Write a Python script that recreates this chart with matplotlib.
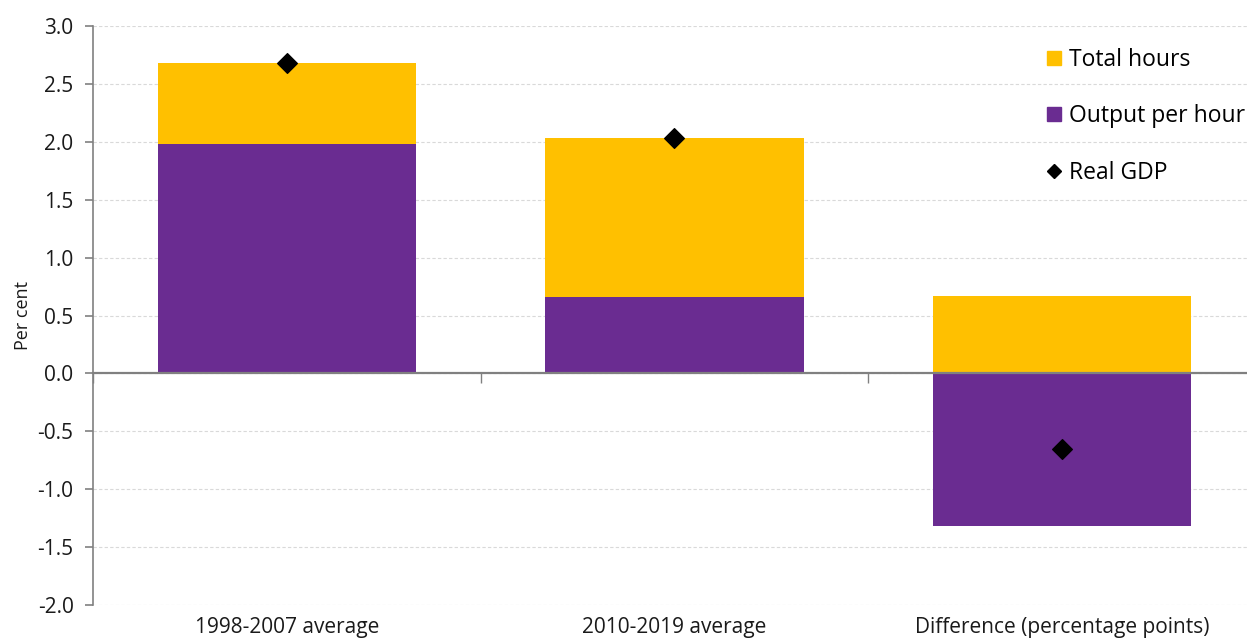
import matplotlib
matplotlib.use("Agg")
import matplotlib.pyplot as plt
import matplotlib.transforms as mtransforms
from matplotlib.lines import Line2D
import numpy as np

categories = ["1998-2007 average", "2010-2019 average", "Difference (percentage points)"]
output_per_hour = [1.98, 0.66, -1.32]
total_hours = [0.70, 1.37, 0.67]
real_gdp = [2.68, 2.03, -0.65]
y_ticks = [-2.0, -1.5, -1.0, -0.5, 0.0, 0.5, 1.0, 1.5, 2.0, 2.5, 3.0]

YELLOW = "#FFC000"
PURPLE = "#6A2C91"
GREY = "#808080"

plt.rcParams["font.family"] = ["Open Sans", "DejaVu Sans"]

fig = plt.figure(figsize=(12.47, 6.44), dpi=100)
W, H = 1247, 644
ax = fig.add_axes([93 / W, (644 - 605) / H, (1256 - 93) / W, (605 - 26) / H])

x = np.arange(len(categories))
width = 0.667
oph = np.array(output_per_hour)
th = np.array(total_hours)
bottom_hours = np.where(oph > 0, oph, 0)
ax.bar(x, oph, width, color=PURPLE, zorder=2)
ax.bar(x, th, width, bottom=bottom_hours, color=YELLOW, zorder=2)
ax.scatter(x, real_gdp, marker="D", s=100, color="black", zorder=3)

ax.set_xlim(-0.5, 2.5)
ax.set_ylim(-2.0, 3.0)
ax.set_yticks(y_ticks)
ax.set_yticklabels([f"{v:.1f}" for v in y_ticks], fontsize=15, color="#1a1a1a")
ax.grid(axis="y", linestyle=(0, (3, 2)), color="#d9d9d9", linewidth=0.8, zorder=0)
ax.set_axisbelow(True)

for s in ["top", "right"]:
    ax.spines[s].set_visible(False)
ax.spines["left"].set_color(GREY)
ax.spines["left"].set_linewidth(1.2)
ax.spines["bottom"].set_position(("data", 0))
ax.spines["bottom"].set_color(GREY)
ax.spines["bottom"].set_linewidth(1.6)
ax.spines["bottom"].set_zorder(4)

ax.tick_params(axis="y", direction="out", length=6, color=GREY, width=1.2, pad=8)
ax.set_xticks([])
ax.set_xticks([-0.5, 0.5, 1.5, 2.5], minor=True)
ax.tick_params(axis="x", which="minor", direction="out", length=7, color=GREY, width=1)

trans = mtransforms.blended_transform_factory(ax.transData, ax.transAxes)
for i, c in enumerate(categories):
    ax.text(i, -0.02, c, transform=trans, ha="center", va="top", fontsize=15, color="#1a1a1a")

ax.set_ylabel("Per cent", fontsize=13, color="#1a1a1a", labelpad=4)

handles = [
    Line2D([], [], marker="s", linestyle="none", color=YELLOW, markersize=10.5),
    Line2D([], [], marker="s", linestyle="none", color=PURPLE, markersize=10.5),
    Line2D([], [], marker="D", linestyle="none", color="black", markersize=7),
]
leg = fig.legend(handles, ["Total hours", "Output per hour", "Real GDP"],
                 loc="upper left", bbox_to_anchor=(1031 / W, 1 - 39 / H),
                 frameon=False, fontsize=16.5, labelspacing=1.41,
                 handletextpad=0.05, handlelength=1.2, borderaxespad=0)

fig.savefig("out.png", dpi=100)
